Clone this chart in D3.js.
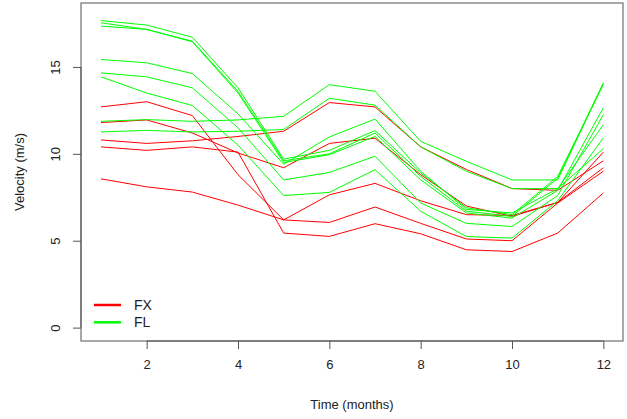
<!DOCTYPE html>
<html><head><meta charset="utf-8">
<script src="https://cdn.jsdelivr.net/npm/d3@7"></script>
<style>body{margin:0;background:#fff}svg{display:block}text{font-family:"Liberation Sans",Arial,sans-serif;fill:#222}</style>
</head><body>
<svg id="c" width="627" height="419"></svg>
<script>
const months = [1,2,3,4,5,6,7,8,9,10,11,12];
const xTicks = [2,4,6,8,10,12];
const yTicks = [0,5,10,15];
const fxSeries = [
  [12.7, 13.0, 12.2, 8.8, 6.2, 7.64, 8.3, 7.3, 6.5, 6.45, 7.2, 9.2],
  [11.8, 11.95, 11.2, 10.05, 9.2, 10.6, 10.9, 8.8, 7.0, 6.4, 7.2, 10.1],
  [10.8, 10.6, 10.75, 11.0, 11.3, 12.95, 12.7, 10.4, 9.1, 8.0, 7.9, 9.6],
  [10.4, 10.2, 10.4, 10.1, 5.44, 5.25, 5.98, 5.4, 4.48, 4.38, 5.44, 7.75],
  [8.56, 8.1, 7.8, 7.05, 6.2, 6.05, 6.94, 6.0, 5.1, 5.0, 7.17, 9.0]
];
const flSeries = [
  [17.67, 17.41, 16.71, 13.8, 9.7, 10.2, 11.34, 8.9, 6.9, 6.5, 8.7, 14.0],
  [17.54, 17.16, 16.48, 13.6, 9.6, 10.0, 11.2, 8.7, 6.7, 6.4, 8.6, 14.09],
  [17.35, 17.16, 16.45, 13.5, 9.5, 9.95, 11.0, 8.5, 6.6, 6.3, 7.9, 12.65],
  [15.43, 15.24, 14.62, 12.3, 9.4, 10.97, 12.0, 9.0, 6.8, 6.6, 8.0, 11.68],
  [14.66, 14.43, 13.8, 11.5, 8.5, 8.93, 9.86, 7.17, 6.0, 5.82, 7.6, 12.26],
  [14.43, 13.5, 12.78, 10.5, 7.6, 7.78, 9.09, 6.7, 5.24, 5.15, 7.3, 10.92],
  [11.87, 11.97, 11.87, 11.95, 12.16, 13.98, 13.6, 10.72, 9.57, 8.5, 8.5, 14.05],
  [11.26, 11.35, 11.26, 11.3, 11.4, 13.2, 12.8, 10.4, 9.0, 8.0, 8.0, 10.3]
];
const groups = [{name:"FX", color:"#ff0000", data:fxSeries},{name:"FL", color:"#00ff00", data:flSeries}];

const svg = d3.select("#c");
const L=81, R=623, T=3, B=341;
const x = d3.scaleLinear().domain([0.562, 12.43]).range([L, R]);
const y = d3.scaleLinear().domain([-0.77, 18.68]).range([B, T]);
const axisColor = "#555";

const line = d3.line().x((d,i)=>x(months[i])).y(d=>y(d));
groups.forEach(g=>{
  svg.append("g").selectAll("path").data(g.data).join("path")
    .attr("d", line).attr("fill","none").attr("stroke", g.color).attr("stroke-width",1);
});

// box
svg.append("rect").attr("x",L).attr("y",T).attr("width",R-L).attr("height",B-T)
  .attr("fill","none").attr("stroke",axisColor).attr("stroke-width",1);

// bottom axis
const xa = svg.append("g").attr("transform",`translate(0,${B})`)
  .call(d3.axisBottom(x).tickValues(xTicks).tickSize(8).tickPadding(11).tickSizeOuter(0));
xa.select(".domain").attr("d", `M${x(xTicks[0])},0H${x(xTicks[xTicks.length-1])}`).attr("stroke",axisColor);
xa.selectAll(".tick line").attr("stroke",axisColor);
xa.selectAll("text").attr("font-size",13).attr("fill","#222").style("font-family","Liberation Sans, Arial, sans-serif");

// left axis
const ya = svg.append("g").attr("transform",`translate(${L},0)`)
  .call(d3.axisLeft(y).tickValues(yTicks).tickSize(8).tickSizeOuter(0));
ya.select(".domain").attr("d", `M0,${y(yTicks[0])}V${y(yTicks[yTicks.length-1])}`).attr("stroke",axisColor);
ya.selectAll(".tick line").attr("stroke",axisColor);
ya.selectAll(".tick text").attr("x",null).attr("dy",null)
  .attr("transform","translate(-26,0) rotate(-90)").attr("text-anchor","middle").attr("dy","0.35em")
  .attr("font-size",13).attr("fill","#222").style("font-family","Liberation Sans, Arial, sans-serif");

// axis titles
svg.append("text").attr("x",(L+R)/2).attr("y",409).attr("text-anchor","middle").attr("font-size",13).text("Time (months)");
svg.append("text").attr("transform",`translate(24,${(T+B)/2}) rotate(-90)`).attr("text-anchor","middle").attr("font-size",13).text("Velocity (m/s)");

// legend
const lg = svg.append("g");
groups.forEach((g,i)=>{
  const yy = 305 + i*17.3;
  lg.append("line").attr("x1",94).attr("x2",121).attr("y1",yy).attr("y2",yy).attr("stroke",g.color).attr("stroke-width",2.5);
  lg.append("text").attr("x",134).attr("y",yy).attr("dy","0.36em").attr("font-size",14).text(g.name);
});
</script>
</body></html>
